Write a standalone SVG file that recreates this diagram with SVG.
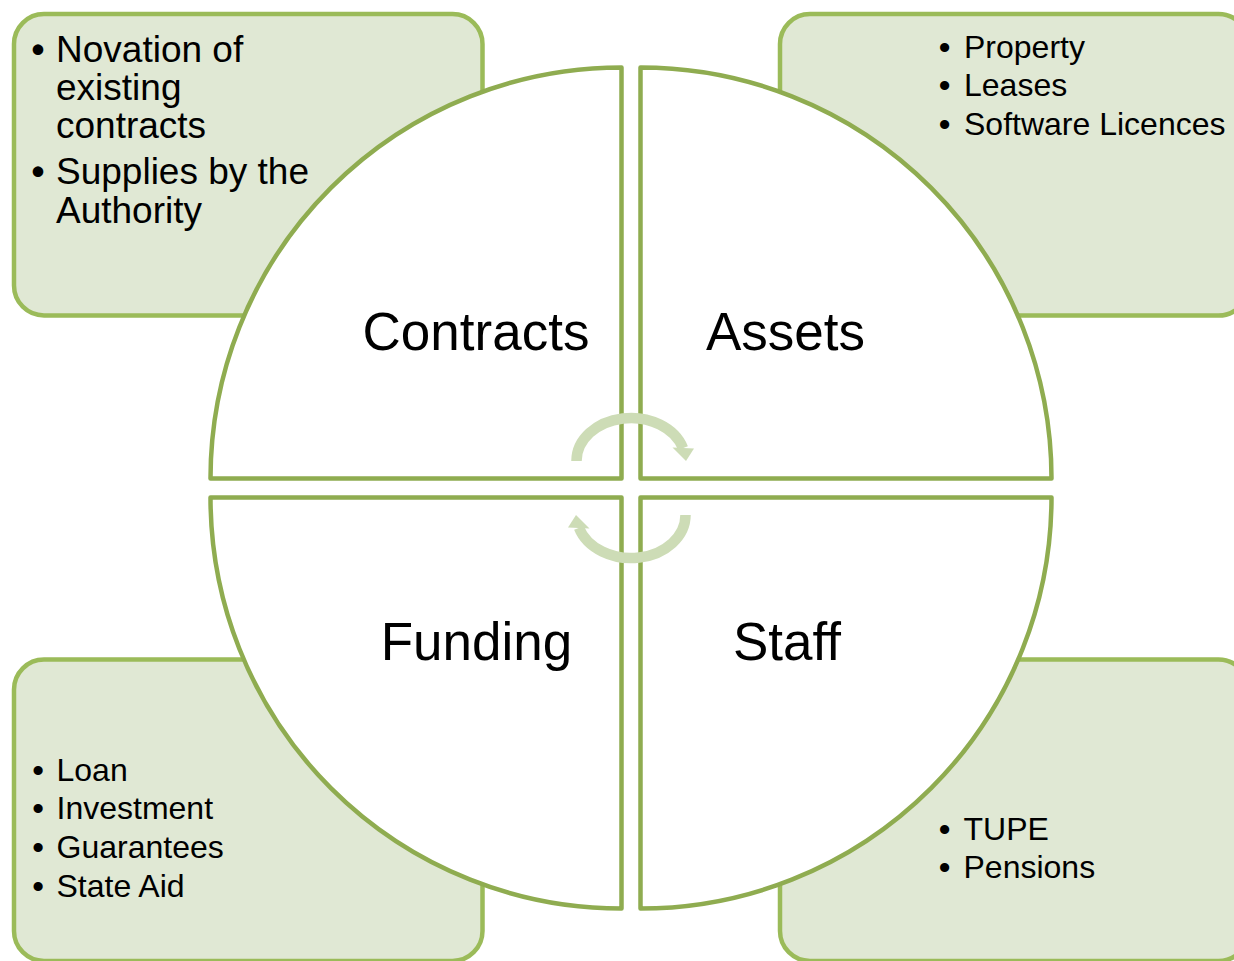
<svg xmlns="http://www.w3.org/2000/svg" width="1234" height="961" viewBox="0 0 1234 961">
<style>
.box{fill:#e0e8d4;stroke:#9bbb59;stroke-width:4.5}
.quad{fill:#ffffff;stroke:#8fac50;stroke-width:4.5;stroke-linejoin:round}
.lbl{font-family:"Liberation Sans",Arial,sans-serif;font-size:53px;fill:#000;text-anchor:middle}
.big{font-family:"Liberation Sans",Arial,sans-serif;font-size:37px;fill:#000}
.sm{font-family:"Liberation Sans",Arial,sans-serif;font-size:32px;fill:#000}
.bul{text-anchor:middle;font-weight:bold}
.arc{fill:none;stroke:#cddcb6;stroke-width:10.5}
.head{fill:#cddcb6}
</style>
<rect width="1234" height="961" fill="#ffffff"/>
<g id="box-contracts">
<rect class="box" x="14" y="14" width="468.5" height="301.5" rx="30" ry="30"/>
<text class="big bul" x="38" y="62">•</text>
<text class="big" x="56" y="62">Novation of</text>
<text class="big" x="56" y="100">existing</text>
<text class="big" x="56" y="138">contracts</text>
<text class="big bul" x="38" y="184">•</text>
<text class="big" x="56" y="184">Supplies by the</text>
<text class="big" x="56" y="222.5">Authority</text>
</g>
<g id="box-assets">
<rect class="box" x="780" y="14" width="468.5" height="301.5" rx="30" ry="30"/>
<text class="sm bul" x="944.5" y="57.5">•</text>
<text class="sm" x="964" y="57.5">Property</text>
<text class="sm bul" x="944.5" y="96">•</text>
<text class="sm" x="964" y="96">Leases</text>
<text class="sm bul" x="944.5" y="134.5">•</text>
<text class="sm" x="964" y="134.5">Software Licences</text>
</g>
<g id="box-funding">
<rect class="box" x="14" y="659.5" width="468.5" height="301.5" rx="30" ry="30"/>
<text class="sm bul" x="38" y="780.5">•</text>
<text class="sm" x="56.5" y="780.5">Loan</text>
<text class="sm bul" x="38" y="819">•</text>
<text class="sm" x="56.5" y="819">Investment</text>
<text class="sm bul" x="38" y="857.5">•</text>
<text class="sm" x="56.5" y="857.5">Guarantees</text>
<text class="sm bul" x="38" y="896.5">•</text>
<text class="sm" x="56.5" y="896.5">State Aid</text>
</g>
<g id="box-staff">
<rect class="box" x="780" y="659.5" width="468.5" height="301.5" rx="30" ry="30"/>
<text class="sm bul" x="944.5" y="840">•</text>
<text class="sm" x="963.5" y="840">TUPE</text>
<text class="sm bul" x="944.5" y="878">•</text>
<text class="sm" x="963.5" y="878">Pensions</text>
</g>
<g id="quad-contracts">
<path class="quad" d="M621.5,478.5 H210.5 A411,411 0 0 1 621.5,67.5 Z"/>
<text class="lbl" x="476" y="349.5">Contracts</text>
</g>
<g id="quad-assets">
<path class="quad" d="M640.5,478.5 V67.5 A411,411 0 0 1 1051.5,478.5 Z"/>
<text class="lbl" x="785.5" y="349.5">Assets</text>
</g>
<g id="quad-funding">
<path class="quad" d="M621.5,497.5 V908.5 A411,411 0 0 1 210.5,497.5 Z"/>
<text class="lbl" x="476.5" y="660">Funding</text>
</g>
<g id="quad-staff">
<path class="quad" d="M640.5,497.5 H1051.5 A411,411 0 0 1 640.5,908.5 Z"/>
<text class="lbl" x="787" y="660">Staff</text>
</g>
<g id="connectors">
<g id="cycle-top">
<path class="arc" d="M576.5,461 A54.5,43 0 0 1 683,448.1"/>
<polygon class="head" points="672.5,447.5 694,448.5 686,461"/>
</g>
<g id="cycle-bottom" transform="rotate(180 631 488)">
<path class="arc" d="M576.5,461 A54.5,43 0 0 1 683,448.1"/>
<polygon class="head" points="672.5,447.5 694,448.5 686,461"/>
</g>
</g>
</svg>
